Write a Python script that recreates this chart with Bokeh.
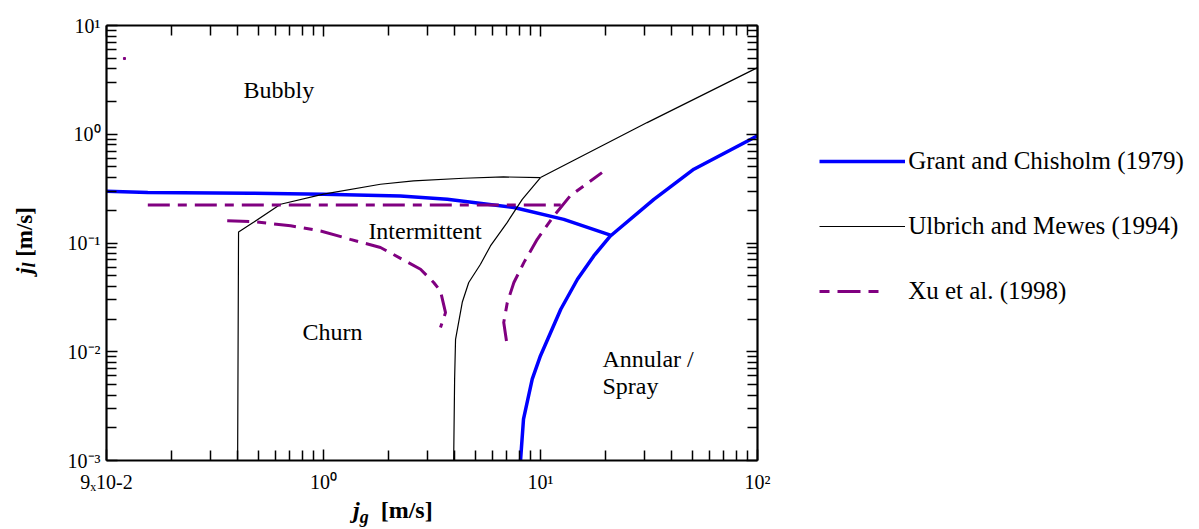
from bokeh.plotting import figure
from bokeh.models import LogAxis, FixedTicker, Label, Legend, LegendItem, Div
from bokeh.layouts import row, column
from bokeh.embed import file_html
from bokeh.resources import INLINE

FONT = "Liberation Serif"
BLUE = "#0000FF"
PURPLE = "#800080"

# ---------------- data ----------------
# Grant and Chisholm (1979)
gc1_jg = [0.10, 0.155, 0.46, 1.0, 2.26, 3.72, 7.54, 12.8, 21.0]
gc1_jl = [0.299, 0.291, 0.287, 0.281, 0.271, 0.252, 0.212, 0.165, 0.118]
gc2_jg = [8.09, 8.35, 9.16, 10.0, 12.4, 14.8, 17.6, 21.0, 33.3, 50.9, 100.0]
gc2_jl = [0.001, 0.0024, 0.0056, 0.0092, 0.0246, 0.0464, 0.076, 0.116, 0.252, 0.477, 0.97]

# Ulbrich and Mewes (1994)
um1_jg = [0.402, 0.406, 0.476, 0.634, 1.0, 1.83, 2.6, 4.42, 6.75, 10.0]
um1_jl = [0.001, 0.126, 0.155, 0.227, 0.281, 0.347, 0.372, 0.394, 0.405, 0.40]
um2_jg = [10.0, 31.0, 100.0]
um2_jl = [0.40, 1.28, 4.1]
um3_jg = [10.0, 8.24, 7.03, 5.88, 5.29, 4.67, 4.36, 4.06, 4.02, 3.98]
um3_jl = [0.40, 0.252, 0.155, 0.094, 0.0638, 0.0433, 0.0285, 0.013, 0.0056, 0.001]

# Xu et al. (1998)
xu1_jg = [0.155, 12.4]
xu1_jl = [0.224, 0.224]
xu2_jg = [0.36, 0.476, 0.705, 0.97, 1.33, 1.83, 2.8, 3.22, 3.46, 3.65, 3.46]
xu2_jl = [0.160, 0.157, 0.144, 0.129, 0.108, 0.091, 0.0574, 0.0433, 0.0362, 0.0229, 0.0167]
xu3_jg = [6.97, 6.77, 7.03, 7.54, 8.38, 9.66, 11.5, 13.7, 19.2]
xu3_jl = [0.01257, 0.0186, 0.0283, 0.0433, 0.066, 0.108, 0.177, 0.271, 0.444]
xu_stray_jg = [0.121]
xu_stray_jl = [4.97]

legend_labels = ["Grant and Chisholm (1979)", "Ulbrich and Mewes (1994)", "Xu et al. (1998)"]

# ticks
x_major = [0.1, 1.0, 10.0, 100.0]
x_labels = {0.1: "9\u209310-2", 1.0: "10\u2070", 10.0: "10\u00b9", 100.0: "10\u00b2"}
y_major = [0.001, 0.01, 0.1, 1.0, 10.0]
y_labels = {0.001: "10\u207b\u00b3", 0.01: "10\u207b\u00b2", 0.1: "10\u207b\u00b9",
            1.0: "10\u2070", 10.0: "10\u00b9"}

x_minor = [m * 10.0 ** k for k in (-1, 0, 1) for m in range(2, 10)]
y_minor = [m * 10.0 ** k for k in (-3, -2, -1, 0) for m in range(2, 10)]

H = 494     # height of the upper row
YW = 50     # width of the y-title column

# ---------------- main figure ----------------
p = figure(frame_width=651, frame_height=435, x_axis_type="log", y_axis_type="log",
           x_range=(0.1, 100), y_range=(0.001, 10), title=None,
           output_backend="svg", toolbar_location=None,
           min_border_left=106 - YW, min_border_right=1199 - 757,
           min_border_top=25, min_border_bottom=H - 460, margin=0)
p.xgrid.visible = False
p.ygrid.visible = False
p.outline_line_color = None


def style_axis(ax, major, minor, show_labels, standoff=6):
    ax.ticker = FixedTicker(ticks=major, minor_ticks=minor)
    ax.axis_line_width = 2.2
    ax.axis_line_color = "black"
    ax.major_tick_in = 11
    ax.major_tick_out = 0
    ax.minor_tick_in = 10
    ax.minor_tick_out = 0
    ax.major_tick_line_width = 1.5
    ax.minor_tick_line_width = 1.5
    ax.major_tick_line_color = "black"
    ax.minor_tick_line_color = "black"
    if show_labels:
        ax.major_label_text_font = FONT
        ax.major_label_text_font_size = "20px"
        ax.major_label_text_color = "black"
        ax.major_label_standoff = standoff
    else:
        ax.major_label_text_font_size = "1px"
        ax.major_label_text_alpha = 0
        ax.major_label_standoff = 0


xa = p.xaxis[0]
ya = p.yaxis[0]
style_axis(xa, x_major, x_minor, True, standoff=10)
style_axis(ya, y_major, y_minor, True, standoff=6)
xa.major_label_overrides = x_labels
ya.major_label_overrides = y_labels

top = LogAxis()
style_axis(top, x_major, x_minor, False)
p.add_layout(top, "above")
right = LogAxis()
style_axis(right, y_major, y_minor, False)
p.add_layout(right, "right")

r_gc = p.line(gc1_jg, gc1_jl, line_color=BLUE, line_width=3.5, line_join="round")
p.line(gc2_jg, gc2_jl, line_color=BLUE, line_width=3.5, line_join="round")

r_um = p.line(um1_jg, um1_jl, line_color="black", line_width=1.2)
p.line(um2_jg, um2_jl, line_color="black", line_width=1.2)
p.line(um3_jg, um3_jl, line_color="black", line_width=1.2)

dash = "22 8 9 8"
p.line(xu1_jg, xu1_jl, line_color=PURPLE, line_width=3, line_dash=dash)
p.line(xu2_jg, xu2_jl, line_color=PURPLE, line_width=3, line_dash=dash)
p.line(xu3_jg, xu3_jl, line_color=PURPLE, line_width=3, line_dash=dash)
p.scatter(xu_stray_jg, xu_stray_jl, marker="square", size=2, color=PURPLE)
# hidden copy with the legend's dash phase
r_xu = p.line(xu1_jg, xu1_jl, line_color=PURPLE, line_width=3,
              line_dash="10 8 23 8 10 60", visible=False)

for txt, xx, yy in [("Bubbly", 0.428, 2.54), ("Intermittent", 1.61, 0.128),
                    ("Churn", 0.80, 0.0151), ("Annular /", 19.3, 0.00853),
                    ("Spray", 19.3, 0.00482)]:
    p.add_layout(Label(x=xx, y=yy, text=txt, text_font=FONT, text_font_size="24px",
                       text_color="black", text_baseline="alphabetic", text_align="left"))

legend = Legend(items=[LegendItem(label=legend_labels[0], renderers=[r_gc]),
                       LegendItem(label=legend_labels[1], renderers=[r_um]),
                       LegendItem(label=legend_labels[2], renderers=[r_xu])],
                location=(-145, 155), orientation="vertical",
                glyph_width=86, glyph_height=20, label_height=20, spacing=37,
                label_standoff=3, padding=0, margin=0,
                border_line_color=None, background_fill_alpha=0,
                inactive_fill_alpha=0,
                label_text_font=FONT, label_text_font_size="25px",
                label_text_color="black")
p.add_layout(legend, "right")

# ---------------- axis titles (HTML text) ----------------
ydiv = Div(width=YW, height=H, margin=0, styles={"overflow": "visible"}, text=(
    '<div style="position:absolute; left:13px; top:274px; transform-origin:0 0; '
    'transform:rotate(-90deg); white-space:nowrap; font-family:\'Liberation Serif\'; '
    'font-size:23px; line-height:23px; font-weight:bold; color:black;">'
    '<i>j</i><span style="font-size:18px; position:relative; top:3px;"><i>l</i></span>'
    '&nbsp;[m/s]</div>'))

xdiv = Div(width=1199, height=529 - H, margin=0, styles={"overflow": "visible"}, text=(
    '<div style="padding-left:353px; padding-top:3px; white-space:nowrap; '
    'font-family:\'Liberation Serif\'; font-size:24px; line-height:24px; '
    'font-weight:bold; color:black;">'
    '<i>j</i><span style="font-size:18px; position:relative; top:5px;"><i>g</i></span>'
    '&nbsp;&nbsp;[m/s]</div>'))

layout = column(row(ydiv, p, margin=0, spacing=0), xdiv, margin=0, spacing=0)
open("out.html", "w").write(file_html(layout, INLINE))
